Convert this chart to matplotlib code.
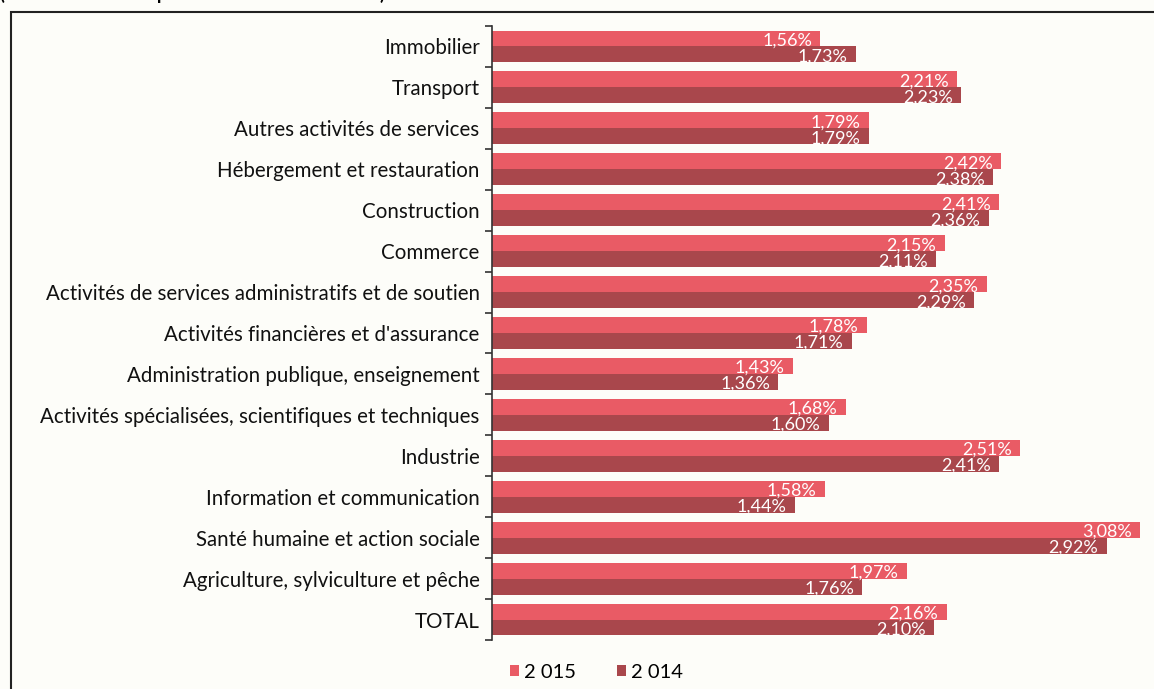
import matplotlib
matplotlib.use("Agg")
import matplotlib.pyplot as plt
from matplotlib.patches import Rectangle
import numpy as np

# Data, top to bottom as in the chart
categories = [
    "Immobilier",
    "Transport",
    "Autres activités de services",
    "Hébergement et restauration",
    "Construction",
    "Commerce",
    "Activités de services administratifs et de soutien",
    "Activités financières et d'assurance",
    "Administration publique, enseignement",
    "Activités spécialisées, scientifiques et techniques",
    "Industrie",
    "Information et communication",
    "Santé humaine et action sociale",
    "Agriculture, sylviculture et pêche",
    "TOTAL",
]
values_2015 = [1.56, 2.21, 1.79, 2.42, 2.41, 2.15, 2.35, 1.78, 1.43, 1.68, 2.51, 1.58, 3.08, 1.97, 2.16]
values_2014 = [1.73, 2.23, 1.79, 2.38, 2.36, 2.11, 2.29, 1.71, 1.36, 1.60, 2.41, 1.44, 2.92, 1.76, 2.10]
series_labels = ["2 015", "2 014"]

COL_2015 = "#e95b65"
COL_2014 = "#a9474c"
BG = "#fdfdf9"
FONT = "Lato"

W, H = 1154, 689
fig = plt.figure(figsize=(W / 100, H / 100), dpi=100, facecolor=BG)

# axes placed in pixel terms
left_px, right_px, top_px, bottom_px = 492, 1154, 26, 640
ax = fig.add_axes([left_px / W, 1 - bottom_px / H,
                   (right_px - left_px) / W, (bottom_px - top_px) / H])
ax.set_facecolor(BG)

y = np.arange(len(categories))
h = 0.39
off = 0.195
b15 = ax.barh(y - off, values_2015, height=h, color=COL_2015, label=series_labels[0])
b14 = ax.barh(y + off, values_2014, height=h, color=COL_2014, label=series_labels[1])

px_per_unit = 210.5
ax.set_xlim(0, (right_px - left_px) / px_per_unit)
ax.set_ylim(len(categories) - 0.5, -0.5)

for bars in (b15, b14):
    for rect in bars:
        v = rect.get_width()
        ax.annotate(f"{v:.2f}%".replace(".", ","),
                    xy=(v, rect.get_y() + rect.get_height() / 2),
                    xytext=(-6, -1.5), textcoords="offset points",
                    ha="right", va="center", color="white",
                    fontsize=13, family=FONT)

# category boundaries as major ticks, labels on minor ticks
ax.set_yticks(np.arange(-0.5, len(categories), 1.0))
ax.set_yticklabels([])
ax.tick_params(axis="y", which="major", length=5, width=1.2, color="#333333", direction="out")
ax.set_yticks(y, minor=True)
ax.set_yticklabels(categories, minor=True, fontsize=14.8, family=FONT, color="#111111")
ax.tick_params(axis="y", which="minor", length=0, pad=9)
ax.set_xticks([])

for s in ("top", "right", "bottom"):
    ax.spines[s].set_visible(False)
ax.spines["left"].set_color("#333333")
ax.spines["left"].set_linewidth(1.2)

fig.legend(handles=[b15, b14], labels=series_labels, loc="center left",
           bbox_to_anchor=(492 / W, 1 - 672 / H), ncol=2, frameon=False,
           handlelength=0.45, handleheight=0.45, handletextpad=0.25,
           columnspacing=2.0, prop={"family": FONT, "size": 14.5})

# source caption, cut off at the top edge as in the original crop
fig.text(0.0, 1 + 6 / H, "(Secteurs d'activité par ordre de taux croissants)",
         ha="left", va="center", fontsize=13, fontweight="bold", family=FONT)

# outer frame, partly outside the picture like the source crop
fig.patches.append(Rectangle((11 / W, -0.2), 2.0, 0.2 + 1 - 12 / H,
                             transform=fig.transFigure, fill=False,
                             edgecolor="#222222", linewidth=1.5))

fig.savefig("out.png", dpi=100, facecolor=BG)
